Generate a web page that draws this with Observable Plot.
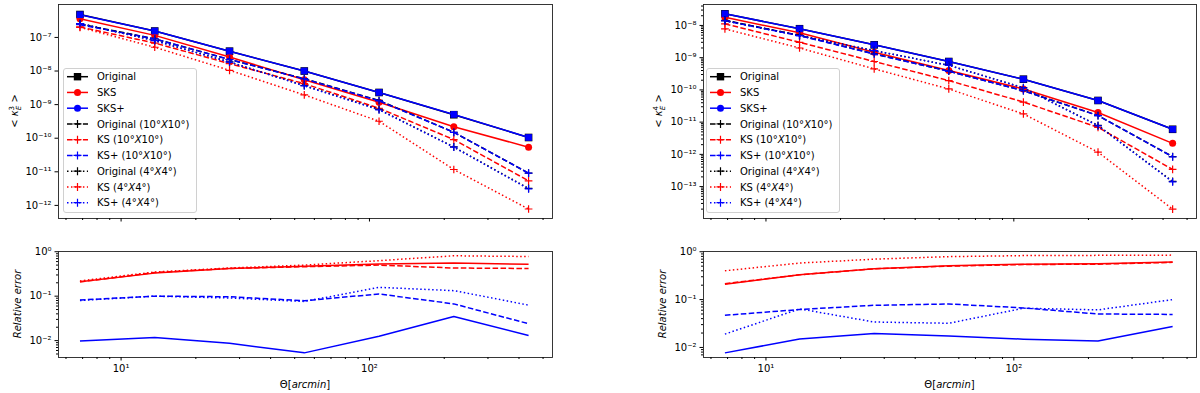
<!DOCTYPE html>
<html><head><meta charset="utf-8">
<script src="https://cdn.jsdelivr.net/npm/d3@7"></script>
<script src="https://cdn.jsdelivr.net/npm/@observablehq/plot@0.6"></script>
<style>
body{margin:0;background:#fff;}
#root{position:relative;width:1200px;height:393px;overflow:hidden;font-family:"DejaVu Sans",sans-serif;}
.pane{position:absolute;}
</style></head><body><div id="root"></div>
<script>
// ---------- data ----------
const theta = [6.83, 13.66, 27.33, 54.65, 109.3, 218.6, 437.2];

// third moment <kappa_E^3>
const k3_original   = [4.8e-7, 1.55e-7, 3.9e-8, 1.0e-8, 2.3e-9, 5.0e-10, 1.05e-10];
const k3_sks        = [3.6e-7, 1.15e-7, 2.6e-8, 5.5e-9, 1.17e-9, 2.2e-10, 5.4e-11];
const k3_sksp       = [4.75e-7, 1.55e-7, 3.9e-8, 1.0e-8, 2.3e-9, 5.1e-10, 1.05e-10];
const k3_orig10     = [2.5e-7, 9.1e-8, 2.2e-8, 5.9e-9, 1.33e-9, 1.5e-10, 9.1e-12];
const k3_ks10       = [2.05e-7, 6.8e-8, 1.66e-8, 4.2e-9, 7.8e-10, 9.1e-11, 5.4e-12];
const k3_ksp10      = [2.4e-7, 9.0e-8, 2.2e-8, 5.8e-9, 1.3e-9, 1.5e-10, 9.1e-12];
const k3_orig4      = [2.6e-7, 8.1e-8, 1.86e-8, 3.7e-9, 7.2e-10, 5.5e-11, 3.2e-12];
const k3_ks4        = [2.0e-7, 5.1e-8, 1.05e-8, 1.95e-9, 3.2e-10, 1.17e-11, 7.8e-13];
const k3_ksp4       = [2.6e-7, 8.0e-8, 1.85e-8, 3.6e-9, 7.0e-10, 5.4e-11, 3.1e-12];

// fourth moment <kappa_E^4>
const k4_original   = [2.3e-8, 7.9e-9, 2.5e-9, 7.6e-10, 2.15e-10, 4.7e-11, 6.0e-12];
const k4_sks        = [1.8e-8, 5.9e-9, 1.48e-9, 4.0e-10, 1.07e-10, 2.0e-11, 2.2e-12];
const k4_sksp       = [2.3e-8, 7.9e-9, 2.5e-9, 7.6e-10, 2.15e-10, 4.7e-11, 6.0e-12];
const k4_orig10     = [1.45e-8, 4.9e-9, 1.32e-9, 3.8e-10, 9.5e-11, 1.6e-11, 8.5e-13];
const k4_ks10       = [1.12e-8, 3.0e-9, 7.6e-10, 1.95e-10, 4.2e-11, 6.9e-12, 3.4e-13];
const k4_ksp10      = [1.4e-8, 4.8e-9, 1.3e-9, 3.8e-10, 9.4e-11, 1.6e-11, 8.4e-13];
const k4_orig4      = [1.4e-8, 4.9e-9, 1.66e-9, 5.8e-10, 1.17e-10, 7.9e-12, 1.45e-13];
const k4_ks4        = [7.8e-9, 2.0e-9, 4.5e-10, 1.07e-10, 1.8e-11, 1.17e-12, 2.0e-14];
const k4_ksp4       = [1.4e-8, 4.8e-9, 1.65e-9, 5.8e-10, 1.15e-10, 7.7e-12, 1.4e-13];

// relative errors, third moment
const e3_sks   = [0.21, 0.33, 0.42, 0.47, 0.53, 0.56, 0.52];
const e3_ks10  = [0.21, 0.34, 0.42, 0.46, 0.50, 0.43, 0.42];
const e3_ks4   = [0.22, 0.35, 0.43, 0.50, 0.63, 0.81, 0.78];
const e3_sksp  = [0.0098, 0.0118, 0.0087, 0.0053, 0.0125, 0.035, 0.013];
const e3_ksp10 = [0.082, 0.10, 0.097, 0.079, 0.112, 0.067, 0.024];
const e3_ksp4  = [0.08, 0.10, 0.091, 0.076, 0.158, 0.133, 0.063];

// relative errors, fourth moment
const e4_sks   = [0.21, 0.33, 0.44, 0.51, 0.55, 0.56, 0.61];
const e4_ks10  = [0.215, 0.33, 0.44, 0.50, 0.54, 0.55, 0.60];
const e4_ks4   = [0.40, 0.58, 0.70, 0.79, 0.83, 0.84, 0.85];
const e4_sksp  = [0.0077, 0.015, 0.0195, 0.0173, 0.0149, 0.0136, 0.0275];
const e4_ksp10 = [0.047, 0.062, 0.076, 0.081, 0.067, 0.05, 0.049];
const e4_ksp4  = [0.019, 0.064, 0.034, 0.032, 0.066, 0.061, 0.10];

const legendLabels = ["Original", "SKS", "SKS+", "Original (10°X10°)", "KS (10°X10°)", "KS+ (10°X10°)",
                      "Original (4°X4°)", "KS (4°X4°)", "KS+ (4°X4°)"];

const xMajor = [10, 100];
const xMinor = [6, 7, 8, 9, 20, 30, 40, 50, 60, 70, 80, 90, 200, 300, 400, 500];

// ---------- styling ----------
const RED = "#ff0000", BLUE = "#0000ff", BLACK = "#000000";
const DASH = "5.55,2.4", DOT = "1.5,2.475";
const xDomain = [Math.pow(10, 0.748), Math.pow(10, 2.737)];

const supMap = {"-":"⁻","0":"⁰","1":"¹","2":"²","3":"³","4":"⁴","5":"⁵","6":"⁶","7":"⁷","8":"⁸","9":"⁹"};
const pow10 = d => "10" + String(Math.round(Math.log10(d))).split("").map(c => supMap[c]).join("");
const decades = (lo, hi) => d3.range(lo, hi + 1).map(e => Math.pow(10, e));
const minors = (lo, hi, dom) => {
  const out = [];
  for (let e = lo; e <= hi; e++) for (let k = 2; k <= 9; k++) {
    const v = k * Math.pow(10, e);
    if (v >= dom[0] && v <= dom[1]) out.push(v);
  }
  return out;
};

function moments(o, s, sp, o10, k10, kp10, o4, k4, kp4) {
  return [
    {v: o, color: BLACK, dash: null, marker: {symbol: "square", fill: BLACK, r: 4.3}},
    {v: s, color: RED, dash: null, marker: {symbol: "circle", fill: RED, r: 3.5}},
    {v: sp, color: BLUE, dash: null, marker: {symbol: "square", fill: BLUE, r: 3.8}},
    {v: o10, color: BLACK, dash: DASH, marker: {symbol: "plus", stroke: BLACK, r: 2.6}},
    {v: k10, color: RED, dash: DASH, marker: {symbol: "plus", stroke: RED, r: 2.6}},
    {v: kp10, color: BLUE, dash: DASH, marker: {symbol: "plus", stroke: BLUE, r: 2.6}},
    {v: o4, color: BLACK, dash: DOT, marker: {symbol: "plus", stroke: BLACK, r: 2.6}},
    {v: k4, color: RED, dash: DOT, marker: {symbol: "plus", stroke: RED, r: 2.6}},
    {v: kp4, color: BLUE, dash: DOT, marker: {symbol: "plus", stroke: BLUE, r: 2.6}}
  ];
}
function errors(s, sp, k10, kp10, k4, kp4) {
  return [
    {v: s, color: RED, dash: null}, {v: sp, color: BLUE, dash: null},
    {v: k10, color: RED, dash: DASH}, {v: kp10, color: BLUE, dash: DASH},
    {v: k4, color: RED, dash: DOT}, {v: kp4, color: BLUE, dash: DOT}
  ];
}

function panel(cfg) {
  const marks = [];
  for (const s of cfg.series) {
    const rows = theta.map((t, i) => ({t, v: s.v[i]}));
    marks.push(Plot.line(rows, {x: "t", y: "v", stroke: s.color, strokeWidth: 1.5,
      strokeDasharray: s.dash || undefined, strokeLinecap: "butt", strokeLinejoin: "round"}));
    if (s.marker) {
      const m = s.marker;
      marks.push(Plot.dot(rows, {x: "t", y: "v", symbol: m.symbol, r: m.r,
        fill: m.fill || "none", stroke: m.stroke || "none", strokeWidth: m.stroke ? 1.2 : undefined}));
    }
  }
  marks.push(Plot.frame({stroke: "#222", strokeWidth: 0.9}));
  marks.push(Plot.axisX(xMajor, {anchor: "bottom", tickSize: 3.5, tickPadding: 3.5, label: null,
    tickFormat: cfg.xLabels ? pow10 : () => "", fontSize: 10}));
  marks.push(Plot.axisX(xMinor.filter(v => v >= xDomain[0] && v <= xDomain[1]),
    {anchor: "bottom", tickSize: 2, tickFormat: () => "", label: null}));
  marks.push(Plot.axisY(cfg.yMajor, {anchor: "left", tickSize: 3.5, tickPadding: 3.5, tickFormat: pow10, fontSize: 10, label: null}));
  if (cfg.yMinor) marks.push(Plot.axisY(cfg.yMinor, {anchor: "left", tickSize: 2, tickFormat: () => "", label: null}));
  const svg = Plot.plot({
    width: cfg.w, height: cfg.h,
    marginLeft: cfg.ml, marginRight: cfg.mr, marginTop: cfg.mt, marginBottom: cfg.mb,
    x: {type: "log", domain: xDomain, label: null},
    y: {type: "log", domain: cfg.yDomain, label: null},
    style: {fontFamily: "DejaVu Sans, sans-serif", fontSize: "10px", color: "#000", background: "transparent", overflow: "visible"},
    marks
  });
  svg.classList.add("pane");
  svg.style.left = cfg.left + "px";
  svg.style.top = cfg.top + "px";
  document.getElementById("root").appendChild(svg);
}

const k3Dom = [Math.pow(10, -12.39), Math.pow(10, -6.02)];
const k4Dom = [Math.pow(10, -13.99), Math.pow(10, -7.35)];
const e3Dom = [Math.pow(10, -2.38), Math.pow(10, 0.005)];
const e4Dom = [Math.pow(10, -2.21), Math.pow(10, 0.005)];

panel({left: 0, top: 0, w: 560, h: 230, ml: 58, mr: 8, mt: 4, mb: 12, yDomain: k3Dom,
  yMajor: decades(-12, -7), yMinor: null, xLabels: false,
  series: moments(k3_original, k3_sks, k3_sksp, k3_orig10, k3_ks10, k3_ksp10, k3_orig4, k3_ks4, k3_ksp4)});
panel({left: 0, top: 240, w: 560, h: 153, ml: 58, mr: 8, mt: 11, mb: 36, yDomain: e3Dom,
  yMajor: decades(-2, 0), yMinor: minors(-3, -1, e3Dom), xLabels: true,
  series: errors(e3_sks, e3_sksp, e3_ks10, e3_ksp10, e3_ks4, e3_ksp4)});
panel({left: 640, top: 0, w: 560, h: 230, ml: 63, mr: 4, mt: 4, mb: 12, yDomain: k4Dom,
  yMajor: decades(-13, -8), yMinor: minors(-14, -8, k4Dom), xLabels: false,
  series: moments(k4_original, k4_sks, k4_sksp, k4_orig10, k4_ks10, k4_ksp10, k4_orig4, k4_ks4, k4_ksp4)});
panel({left: 640, top: 240, w: 560, h: 153, ml: 63, mr: 4, mt: 11, mb: 36, yDomain: e4Dom,
  yMajor: decades(-2, 0), yMinor: minors(-3, -1, e4Dom), xLabels: true,
  series: errors(e4_sks, e4_sksp, e4_ks10, e4_ksp10, e4_ks4, e4_ksp4)});

// ---------- legends ----------
const legendStyle = [
  {color: BLACK, dash: null, sym: "square"}, {color: RED, dash: null, sym: "circle"}, {color: BLUE, dash: null, sym: "circle"},
  {color: BLACK, dash: DASH, sym: "plus"}, {color: RED, dash: DASH, sym: "plus"}, {color: BLUE, dash: DASH, sym: "plus"},
  {color: BLACK, dash: DOT, sym: "plus"}, {color: RED, dash: DOT, sym: "plus"}, {color: BLUE, dash: DOT, sym: "plus"}
];
function labelHTML(s) {
  return s.replace(/(\d+)°X(\d+)°/, '$1°<tspan font-style="italic">X</tspan>$2°');
}
function legend(left) {
  const W = 134, H = 145;
  let g = `<svg class="pane" style="left:${left}px;top:68px" width="${W}" height="${H}" xmlns="http://www.w3.org/2000/svg">`;
  g += `<rect x="0.5" y="0.5" width="${W-1}" height="${H-1}" rx="2.5" fill="rgba(255,255,255,0.85)" stroke="#d0d0d0"/>`;
  legendLabels.forEach((lab, i) => {
    const st = legendStyle[i];
    const y = 8.7 + i * 15.75;
    g += `<line x1="4" x2="25" y1="${y}" y2="${y}" stroke="${st.color}" stroke-width="1.5" ${st.dash ? `stroke-dasharray="${st.dash}"` : ""}/>`;
    if (st.sym === "square") g += `<rect x="${14.5-3.7}" y="${y-3.7}" width="7.4" height="7.4" fill="${st.color}"/>`;
    else if (st.sym === "circle") g += `<circle cx="14.5" cy="${y}" r="3.5" fill="${st.color}"/>`;
    else g += `<path d="M10.5,${y}H18.5M14.5,${y-4}V${y+4}" stroke="${st.color}" stroke-width="1.2"/>`;
    g += `<text x="34" y="${y+3.6}" font-family="DejaVu Sans" font-size="10" fill="#000">${labelHTML(lab)}</text>`;
  });
  g += `</svg>`;
  document.getElementById("root").insertAdjacentHTML("beforeend", g);
}
legend(63);
legend(706);

// ---------- axis titles ----------
const titles = `<svg class="pane" style="left:0;top:0;pointer-events:none" width="1200" height="393" xmlns="http://www.w3.org/2000/svg" font-family="DejaVu Sans" font-size="10" fill="#000">
  <text x="305" y="388" text-anchor="middle">Θ[<tspan font-style="italic">arcmin</tspan>]</text>
  <text x="949.5" y="388" text-anchor="middle">Θ[<tspan font-style="italic">arcmin</tspan>]</text>
  <text transform="translate(18,111) rotate(-90)" text-anchor="middle">&lt; <tspan font-style="italic">κ</tspan><tspan font-size="7" dy="-4.5">3</tspan><tspan font-size="7" font-style="italic" dx="-4.2" dy="7.5">E</tspan><tspan dy="-3"> &gt;</tspan></text>
  <text transform="translate(21,304) rotate(-90)" text-anchor="middle" font-style="italic">Relative error</text>
  <text transform="translate(662,111) rotate(-90)" text-anchor="middle">&lt; <tspan font-style="italic">κ</tspan><tspan font-size="7" dy="-4.5">4</tspan><tspan font-size="7" font-style="italic" dx="-4.2" dy="7.5">E</tspan><tspan dy="-3"> &gt;</tspan></text>
  <text transform="translate(666,304) rotate(-90)" text-anchor="middle" font-style="italic">Relative error</text>
</svg>`;
document.getElementById("root").insertAdjacentHTML("beforeend", titles);
</script></body></html>
